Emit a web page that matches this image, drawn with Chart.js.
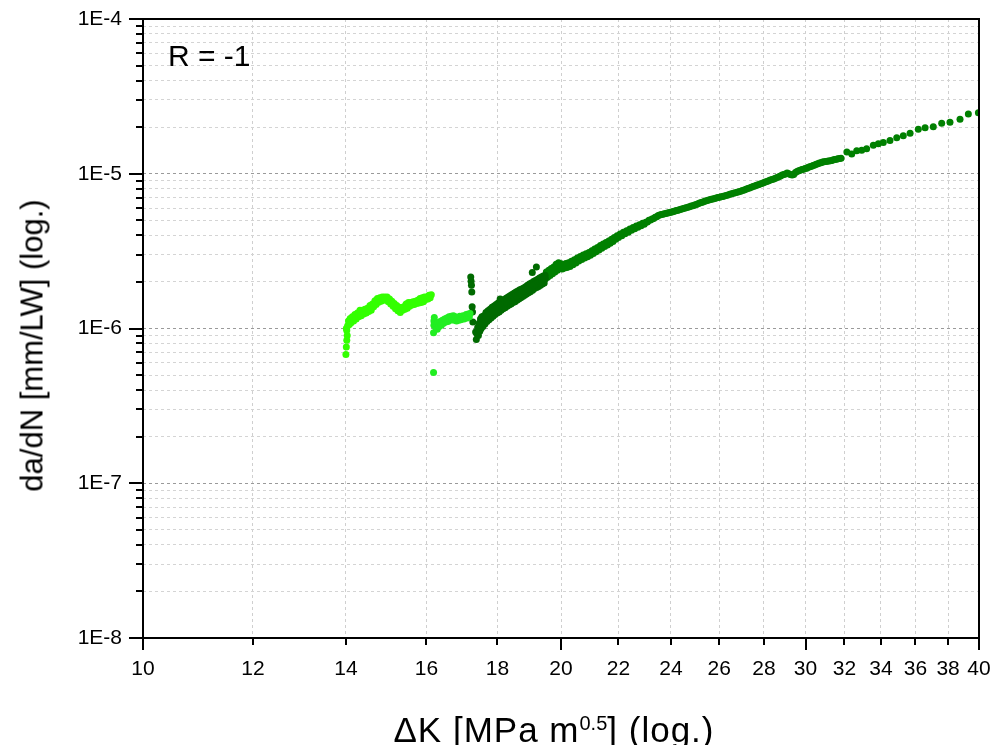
<!DOCTYPE html>
<html>
<head>
<meta charset="utf-8">
<title>da/dN vs ΔK, R = -1</title>
<script src="https://cdn.jsdelivr.net/npm/chart.js@4.4.0/dist/chart.umd.min.js"></script>
<style>
  body { margin: 0; background: #fff; }
  #wrap { position: relative; width: 992px; height: 745px; font-family: "Liberation Sans", Arial, sans-serif; color: #000; }
  #rLabel { position: absolute; left: 168px; top: 41px; font-size: 30px; line-height: 30px; white-space: nowrap; }
  #yTitle { position: absolute; left: -168px; top: 330px; width: 400px; height: 31px; font-size: 31px; line-height: 31px;
            text-align: center; white-space: nowrap; transform: rotate(-90deg); }
  #xTitle { position: absolute; left: 304px; top: 712px; width: 500px; font-size: 35px; line-height: 35px;
            text-align: center; white-space: nowrap; letter-spacing: 1px; }
  #xTitle .sup { font-size: 20px; position: relative; top: -12px; letter-spacing: 0; }
</style>
</head>
<body>
<div id="wrap">
  <canvas id="fcgChart" width="992" height="745"></canvas>
  <div id="rLabel">R = -1</div>
  <div id="yTitle">da/dN [mm/LW] (log.)</div>
  <div id="xTitle">ΔK [MPa m<span class="sup">0.5</span>] (log.)</div>
</div>
<script>
// Crack growth data, [ΔK in MPa m^0.5, da/dN in mm/LW]

// first block, bright green
const runA = [
  [14.00,6.8e-7],[14.01,7.6e-7],[14.02,8.4e-7],[14.03,9.0e-7],[14.02,9.7e-7],[14.01,1.00e-6],[14.04,1.04e-6],
  [14.06,1.12e-6],[14.08,1.06e-6],[14.10,1.16e-6],[14.12,1.09e-6],[14.15,1.19e-6],[14.18,1.12e-6],[14.21,1.23e-6],
  [14.24,1.15e-6],[14.27,1.26e-6],[14.30,1.19e-6],[14.33,1.31e-6],[14.36,1.21e-6],[14.39,1.31e-6],[14.42,1.24e-6],
  [14.45,1.33e-6],[14.48,1.26e-6],[14.51,1.35e-6],[14.54,1.29e-6],[14.57,1.41e-6],[14.60,1.31e-6],[14.63,1.44e-6],
  [14.66,1.38e-6],[14.69,1.51e-6],[14.72,1.43e-6],[14.75,1.56e-6],[14.78,1.48e-6],[14.81,1.58e-6],[14.84,1.50e-6],
  [14.87,1.60e-6],[14.90,1.52e-6],[14.93,1.60e-6],[14.96,1.53e-6],[14.99,1.60e-6],[15.02,1.49e-6],[15.05,1.55e-6],
  [15.08,1.44e-6],[15.11,1.50e-6],[15.14,1.39e-6],[15.17,1.45e-6],[15.20,1.34e-6],[15.23,1.41e-6],[15.26,1.30e-6],
  [15.29,1.37e-6],[15.32,1.27e-6],[15.35,1.36e-6],[15.38,1.31e-6],[15.41,1.38e-6],[15.44,1.33e-6],[15.47,1.44e-6],
  [15.50,1.35e-6],[15.53,1.47e-6],[15.56,1.39e-6],[15.59,1.47e-6],[15.62,1.42e-6],[15.65,1.49e-6],[15.68,1.43e-6],
  [15.71,1.50e-6],[15.74,1.45e-6],[15.77,1.52e-6],[15.80,1.46e-6],[15.83,1.56e-6],[15.86,1.47e-6],[15.89,1.58e-6],
  [15.92,1.49e-6],[15.95,1.60e-6],[15.98,1.54e-6],[16.01,1.60e-6],[16.04,1.55e-6],[16.07,1.64e-6],[16.10,1.58e-6],
  [16.13,1.65e-6]
];

// second block, green
const runB = [
  [16.19,5.2e-7],[16.19,9.4e-7],[16.20,1.05e-6],[16.20,1.12e-6],[16.21,1.18e-6],[16.23,1.10e-6],[16.25,1.02e-6],
  [16.27,1.07e-6],[16.29,0.99e-6],[16.31,1.09e-6],[16.34,1.03e-6],[16.37,1.11e-6],[16.40,1.05e-6],[16.43,1.13e-6],
  [16.46,1.08e-6],[16.49,1.15e-6],[16.52,1.10e-6],[16.55,1.17e-6],[16.58,1.11e-6],[16.61,1.19e-6],[16.64,1.13e-6],
  [16.67,1.20e-6],[16.70,1.14e-6],[16.73,1.21e-6],[16.76,1.13e-6],[16.79,1.19e-6],[16.82,1.12e-6],[16.85,1.18e-6],
  [16.88,1.13e-6],[16.91,1.20e-6],[16.94,1.14e-6],[16.97,1.19e-6],[17.00,1.21e-6],[17.03,1.15e-6],[17.06,1.20e-6],
  [17.09,1.23e-6],[17.12,1.17e-6],[17.15,1.24e-6],[17.18,1.19e-6],[17.20,1.25e-6]
];

// third block, dark green
const runC = [
  [17.22,2.15e-6],[17.23,2.02e-6],[17.24,1.90e-6],[17.25,1.72e-6],[17.26,1.38e-6],[17.27,1.28e-6],[17.28,1.10e-6],
  [17.36,0.95e-6],[17.38,0.85e-6],[17.40,0.92e-6],[17.42,1.02e-6],[17.44,0.90e-6],[17.46,1.08e-6],[17.48,0.96e-6],
  [17.50,1.15e-6],[17.52,1.00e-6],[17.54,1.19e-6],[17.57,1.03e-6],[17.60,1.21e-6],[17.63,1.07e-6],[17.66,1.27e-6],
  [17.69,1.11e-6],[17.72,1.30e-6],[17.75,1.14e-6],[17.78,1.33e-6],[17.81,1.17e-6],[17.84,1.37e-6],[17.87,1.20e-6],
  [17.90,1.40e-6],[17.93,1.23e-6],[17.96,1.43e-6],[17.99,1.26e-6],[18.02,1.46e-6],[18.05,1.28e-6],[18.08,1.55e-6],
  [18.11,1.31e-6],[18.14,1.51e-6],[18.17,1.34e-6],[18.20,1.54e-6],[18.23,1.36e-6],[18.26,1.57e-6],[18.29,1.39e-6],
  [18.32,1.60e-6],[18.35,1.42e-6],[18.38,1.63e-6],[18.41,1.44e-6],[18.44,1.66e-6],[18.47,1.47e-6],[18.50,1.69e-6],
  [18.53,1.49e-6],[18.56,1.72e-6],[18.59,1.52e-6],[18.62,1.75e-6],[18.65,1.55e-6],[18.68,1.78e-6],[18.71,1.58e-6],
  [18.74,1.80e-6],[18.77,1.61e-6],[18.80,1.83e-6],[18.83,1.64e-6],[18.86,1.86e-6],[18.89,1.67e-6],[18.92,1.90e-6],
  [18.95,1.70e-6],[18.98,1.94e-6],[19.01,1.73e-6],[19.04,1.97e-6],[19.07,2.30e-6],[19.08,1.77e-6],[19.11,2.01e-6],
  [19.14,1.81e-6],[19.17,2.04e-6],[19.20,2.50e-6],[19.21,1.84e-6],[19.24,2.08e-6],[19.27,1.87e-6],[19.30,2.12e-6],
  [19.33,1.90e-6],[19.36,2.15e-6],[19.39,1.94e-6],[19.42,2.18e-6],[19.45,1.97e-6],[19.48,2.21e-6],
  // points in the middle of the band
  [17.41,0.96e-6],[17.45,0.99e-6],[17.49,1.05e-6],[17.53,1.09e-6],[17.56,1.11e-6],[17.62,1.14e-6],[17.67,1.19e-6],
  [17.73,1.22e-6],[17.79,1.25e-6],[17.85,1.28e-6],[17.91,1.31e-6],[17.97,1.34e-6],[18.03,1.37e-6],[18.09,1.41e-6],
  [18.15,1.43e-6],[18.21,1.45e-6],[18.27,1.48e-6],[18.33,1.51e-6],[18.39,1.53e-6],[18.45,1.56e-6],[18.51,1.59e-6],
  [18.57,1.62e-6],[18.63,1.65e-6],[18.69,1.68e-6],[18.75,1.71e-6],[18.81,1.74e-6],[18.87,1.77e-6],[18.93,1.80e-6],
  [18.99,1.83e-6],[19.05,1.86e-6],[19.12,1.91e-6],[19.18,1.94e-6],[19.25,1.98e-6],[19.31,2.01e-6],[19.37,2.05e-6],
  [19.43,2.08e-6],[19.49,2.10e-6]
];

// last block, green, up to 40
const runD = [
  [19.52,2.32e-6],[19.56,2.14e-6],[19.60,2.38e-6],[19.64,2.20e-6],[19.68,2.44e-6],[19.72,2.26e-6],[19.76,2.50e-6],
  [19.80,2.32e-6],[19.84,2.60e-6],[19.88,2.38e-6],[19.92,2.66e-6],[19.96,2.44e-6],[20.00,2.62e-6],[20.04,2.42e-6],
  [20.08,2.58e-6],[20.12,2.46e-6],[20.16,2.63e-6],[20.20,2.48e-6],[20.25,2.66e-6],[20.30,2.52e-6],[20.35,2.72e-6],
  [20.40,2.58e-6],[20.45,2.78e-6],[20.50,2.65e-6],[20.55,2.86e-6],[20.60,2.73e-6],[20.65,2.92e-6],[20.70,2.79e-6],
  [20.75,2.98e-6],[20.80,2.85e-6],[20.85,3.04e-6],[20.90,2.91e-6],[20.95,3.10e-6],[21.00,2.97e-6],[21.05,3.18e-6],
  [21.10,3.05e-6],[21.15,3.26e-6],[21.20,3.13e-6],[21.25,3.34e-6],[21.30,3.21e-6],[21.35,3.44e-6],[21.40,3.30e-6],
  [21.45,3.52e-6],[21.50,3.39e-6],[21.55,3.60e-6],[21.60,3.47e-6],[21.65,3.68e-6],[21.70,3.55e-6],[21.75,3.78e-6],
  [21.80,3.65e-6],[21.85,3.88e-6],[21.90,3.77e-6],[21.95,3.97e-6],[22.00,3.87e-6],[22.06,4.08e-6],[22.12,3.97e-6],
  [22.18,4.18e-6],[22.24,4.09e-6],[22.30,4.29e-6],[22.36,4.19e-6],[22.42,4.39e-6],[22.48,4.31e-6],[22.54,4.49e-6],
  [22.60,4.41e-6],[22.66,4.59e-6],[22.72,4.51e-6],[22.78,4.69e-6],[22.84,4.61e-6],[22.90,4.79e-6],[22.96,4.71e-6],
  [23.02,4.86e-6],[23.08,4.88e-6],[23.14,5.00e-6],[23.20,5.02e-6],[23.26,5.10e-6],[23.32,5.14e-6],[23.38,5.24e-6],
  [23.44,5.28e-6],[23.50,5.38e-6],[23.56,5.42e-6],[23.62,5.46e-6],[23.68,5.48e-6],[23.74,5.52e-6],[23.80,5.54e-6],
  [23.86,5.58e-6],[23.92,5.60e-6],[23.98,5.63e-6],[24.04,5.66e-6],[24.10,5.70e-6],[24.16,5.74e-6],[24.22,5.78e-6],
  [24.28,5.82e-6],[24.34,5.86e-6],[24.40,5.90e-6],[24.47,5.94e-6],[24.54,5.98e-6],[24.61,6.03e-6],[24.68,6.07e-6],
  [24.75,6.12e-6],[24.82,6.18e-6],[24.89,6.22e-6],[24.96,6.28e-6],[25.03,6.34e-6],[25.10,6.40e-6],[25.17,6.46e-6],
  [25.24,6.52e-6],[25.31,6.58e-6],[25.38,6.64e-6],[25.45,6.68e-6],[25.52,6.74e-6],[25.59,6.80e-6],[25.66,6.84e-6],
  [25.73,6.88e-6],[25.80,6.92e-6],[25.87,6.96e-6],[25.94,7.02e-6],[26.01,7.06e-6],[26.08,7.10e-6],[26.15,7.14e-6],
  [26.22,7.18e-6],[26.30,7.24e-6],[26.38,7.30e-6],[26.46,7.36e-6],[26.54,7.42e-6],[26.62,7.48e-6],[26.70,7.54e-6],
  [26.78,7.60e-6],[26.86,7.66e-6],[26.94,7.72e-6],[27.02,7.80e-6],[27.10,7.86e-6],[27.18,7.94e-6],[27.26,8.02e-6],
  [27.34,8.10e-6],[27.42,8.18e-6],[27.50,8.26e-6],[27.58,8.34e-6],[27.66,8.42e-6],[27.74,8.50e-6],[27.82,8.58e-6],
  [27.90,8.66e-6],[27.98,8.76e-6],[28.06,8.84e-6],[28.14,8.92e-6],[28.22,9.00e-6],[28.30,9.10e-6],[28.38,9.18e-6],
  [28.46,9.26e-6],[28.54,9.36e-6],[28.62,9.46e-6],[28.70,9.56e-6],[28.78,9.68e-6],[28.86,9.80e-6],[28.94,9.90e-6],
  [29.02,9.98e-6],[29.10,1.010e-5],[29.18,1.000e-5],[29.26,9.88e-6],[29.34,9.82e-6],[29.42,9.90e-6],[29.50,1.020e-5],
  [29.58,1.035e-5],[29.66,1.045e-5],[29.74,1.055e-5],[29.82,1.065e-5],[29.90,1.070e-5],[29.98,1.080e-5],[30.06,1.085e-5],
  [30.14,1.100e-5],[30.22,1.110e-5],[30.30,1.120e-5],[30.38,1.130e-5],[30.46,1.140e-5],[30.54,1.150e-5],[30.62,1.160e-5],
  [30.70,1.175e-5],[30.78,1.180e-5],[30.86,1.190e-5],[30.94,1.195e-5],[31.02,1.200e-5],[31.10,1.205e-5],[31.18,1.210e-5],
  [31.26,1.215e-5],[31.34,1.220e-5],[31.42,1.230e-5],[31.50,1.235e-5],[31.58,1.240e-5],[31.66,1.250e-5],[31.74,1.255e-5],
  [31.82,1.260e-5],
  [32.13,1.38e-5],[32.39,1.34e-5],[32.66,1.41e-5],[32.93,1.42e-5],[33.20,1.45e-5],[33.57,1.53e-5],[33.85,1.56e-5],
  [34.13,1.59e-5],[34.51,1.64e-5],[34.90,1.71e-5],[35.28,1.76e-5],[35.68,1.83e-5],[36.17,1.94e-5],[36.58,1.98e-5],
  [37.08,2.01e-5],[37.60,2.12e-5],[38.12,2.15e-5],[38.76,2.25e-5],[39.30,2.43e-5],[39.96,2.48e-5]
];

const runColors = ['#33ff00', '#22ee22', '#006a00', '#008000'];

// axis ticks
const kTicks = [10, 12, 14, 16, 18, 20, 22, 24, 26, 28, 30, 32, 34, 36, 38, 40];
const kMajorTicks = [10, 20, 30, 40];
const rateDecades = [1e-8, 1e-7, 1e-6, 1e-5, 1e-4];
const rateMinorSteps = [2, 3, 4, 5, 6, 7, 8, 9];

function isDecade(v) {
  const e = Math.log10(v);
  return Math.abs(e - Math.round(e)) < 1e-6;
}

function rateTickValues() {
  const vals = [];
  rateDecades.forEach((d, i) => {
    vals.push(d);
    if (i < rateDecades.length - 1) rateMinorSteps.forEach(m => vals.push(m * d));
  });
  return vals;
}

// Frame round the plot plus outward tick marks (long at majors, short at minors)
const frameAndTicks = {
  id: 'frameAndTicks',
  afterDatasetsDraw(chart) {
    const { ctx, chartArea: a, scales } = chart;
    ctx.save();
    ctx.strokeStyle = '#000';
    ctx.lineWidth = 2;
    ctx.strokeRect(a.left, a.top, a.right - a.left, a.bottom - a.top);
    ctx.beginPath();
    kTicks.forEach(v => {
      const px = Math.round(scales.x.getPixelForValue(v));
      const len = kMajorTicks.includes(v) ? 12 : 7;
      ctx.moveTo(px, a.bottom);
      ctx.lineTo(px, a.bottom + len);
    });
    rateTickValues().forEach(v => {
      const py = Math.round(scales.y.getPixelForValue(v));
      const len = isDecade(v) ? 14 : 7;
      ctx.moveTo(a.left, py);
      ctx.lineTo(a.left - len, py);
    });
    ctx.stroke();
    ctx.restore();
  }
};

function makeSet(points, color) {
  return {
    data: points.map(p => ({ x: p[0], y: p[1] })),
    backgroundColor: color,
    borderColor: color,
    pointRadius: 3.5,
    pointBorderWidth: 0,
    pointHoverRadius: 3.5,
    showLine: false
  };
}

// stop the edge tick labels from pushing the plot area inwards
function noEdgePadding(s) {
  s.paddingLeft = 0;
  s.paddingRight = 0;
  s.paddingTop = 0;
  s.paddingBottom = 0;
}

document.addEventListener('DOMContentLoaded', () => {
  Chart.defaults.font.family = '"Liberation Sans", Arial, sans-serif';
  Chart.defaults.color = '#000';

  const ctx = document.getElementById('fcgChart').getContext('2d');
  new Chart(ctx, {
    type: 'scatter',
    data: {
      datasets: [
        makeSet(runA, runColors[0]),
        makeSet(runB, runColors[1]),
        makeSet(runC, runColors[2]),
        makeSet(runD, runColors[3])
      ]
    },
    options: {
      responsive: false,
      animation: false,
      devicePixelRatio: 1,
      layout: { padding: { left: 0, top: 19, right: 13, bottom: 0 } },
      plugins: { legend: { display: false }, tooltip: { enabled: false } },
      scales: {
        x: {
          type: 'logarithmic',
          min: 10,
          max: 40,
          afterBuildTicks: s => { s.ticks = kTicks.map(v => ({ value: v })); },
          afterFit: s => { s.height = 107; noEdgePadding(s); },
          ticks: { autoSkip: false, maxRotation: 0, padding: 19, font: { size: 21 }, callback: v => String(v) },
          grid: {
            drawTicks: false,
            lineWidth: 1,
            color: c => (c.tick && (c.tick.value === 10 || c.tick.value === 40)) ? 'rgba(0,0,0,0)' : '#cfcfcf'
          },
          border: { display: false, dash: [3, 3] }
        },
        y: {
          type: 'logarithmic',
          min: 1e-8,
          max: 1e-4,
          afterBuildTicks: s => { s.ticks = rateTickValues().map(v => ({ value: v })); },
          afterFit: s => { s.width = 143; noEdgePadding(s); },
          ticks: {
            autoSkip: false,
            padding: 21,
            font: { size: 21 },
            callback: v => isDecade(v) ? '1E' + Math.round(Math.log10(v)) : ''
          },
          grid: {
            drawTicks: false,
            lineWidth: 1,
            color: c => (c.tick && isDecade(c.tick.value)) ? '#9a9a9a' : '#d4d4d4'
          },
          border: { display: false, dash: [3, 3] }
        }
      }
    },
    plugins: [frameAndTicks]
  });
});
</script>
</body>
</html>
